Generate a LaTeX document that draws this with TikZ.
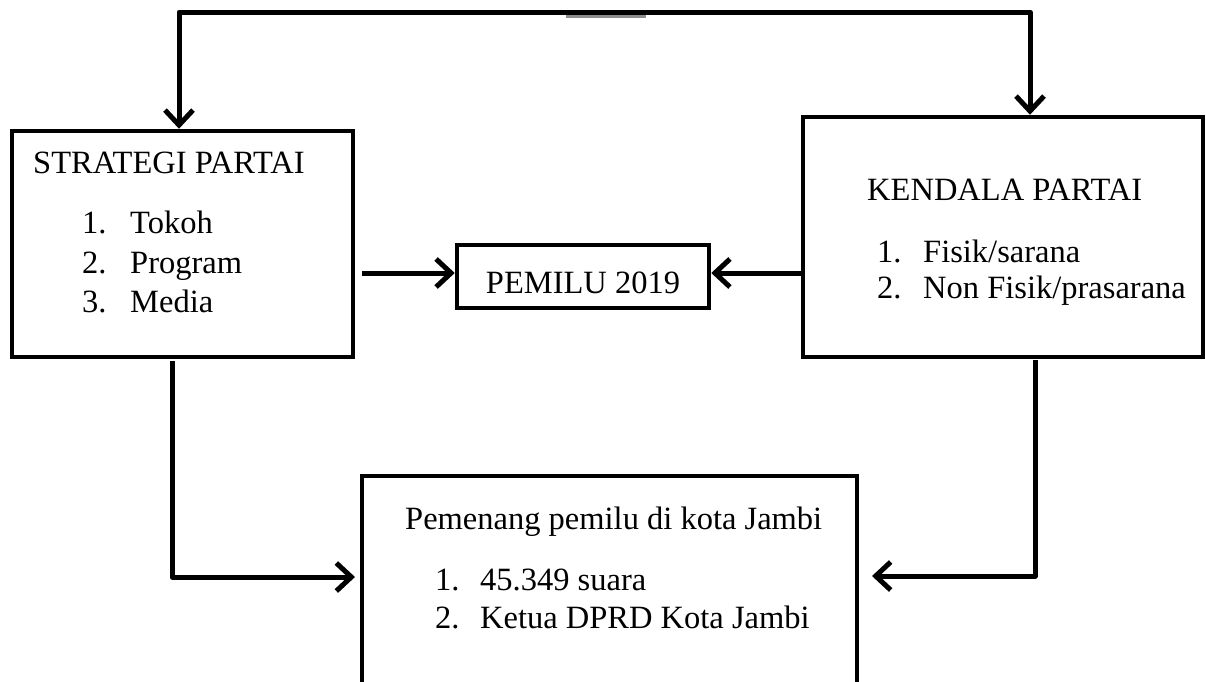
\documentclass[tikz,border=0pt]{standalone}
\usepackage{fontspec}
\setmainfont{Liberation Serif}
\usetikzlibrary{arrows.meta}
\tikzset{
  box/.style={draw=black, line width=4.5pt, rectangle, inner sep=0pt},
  conn/.style={draw=black, line width=5pt, line join=round},
  tip/.tip={Straight Barb[length=15pt,width=28pt,line width=5pt]},
  arr/.style={conn, -tip},
  biarr/.style={conn, tip-tip},
  txt/.style={anchor=base west, inner sep=0pt, font=\fontsize{32.5}{38}\selectfont},
}
\begin{document}
\begin{tikzpicture}[x=1pt,y=-1pt]
\useasboundingbox (0,0) rectangle (1206,681);
\clip (0,0) rectangle (1206,681);
% boxes
\node[box, minimum width=341pt, minimum height=226pt] (sp) at (182.5,244) {};
\node[box, minimum width=400pt, minimum height=240pt] (kp) at (1003,237) {};
\node[box, minimum width=252pt, minimum height=63pt] (pm) at (583,276.5) {};
\node[box, minimum width=495pt, minimum height=240pt] (pb) at (609.5,596) {};
% texts
\node[txt] (spt) at (33,173) {STRATEGI PARTAI};
\node[txt] (sp1n) at (82,233) {1.};
\node[txt] (sp1) at (130,233) {Tokoh};
\node[txt] (sp2n) at (82,273) {2.};
\node[txt] (sp2) at (130,273) {Program};
\node[txt] (sp3n) at (82,312) {3.};
\node[txt] (sp3) at (130,312) {Media};
\node[txt] (kpt) at (867,200) {KENDALA PARTAI};
\node[txt] (kp1n) at (877,262) {1.};
\node[txt] (kp1) at (923,262) {Fisik/sarana};
\node[txt] (kp2n) at (877,298) {2.};
\node[txt] (kp2) at (923,298) {Non Fisik/prasarana};
\node[anchor=base, inner sep=0pt, font=\fontsize{32.5}{38}\selectfont] (pmt) at (583,293) {PEMILU 2019};
\node[txt] (pbt) at (405,529) {Pemenang pemilu di kota Jambi};
\node[txt] (pb1n) at (435,590) {1.};
\node[txt] (pb1) at (480,590) {45.349 suara};
\node[txt] (pb2n) at (435,628) {2.};
\node[txt] (pb2) at (480,628) {Ketua DPRD Kota Jambi};
% coordinates
\coordinate (tl) at (179,12);
\coordinate (tr) at (1030,12);
\coordinate (a1) at (362,273);
\coordinate (b1) at (172,361);
\coordinate (b2) at (172,577);
\coordinate (b3) at (355,577);
\coordinate (c1) at (1035,360);
\coordinate (c2) at (1035,576);
\coordinate (c3) at (872,576);
% gray mark at the top line
\draw[black!45, line width=5pt] (566,15) -- (646,15);
% connectors
\draw[biarr] (sp.north -| tl) -- (tl) -- (tr) -- (kp.north -| tr);
\draw[arr] (a1) -- (pm.west |- a1);
\draw[arr] (kp.west |- a1) -- (pm.east |- a1);
\draw[arr] (b1) -- (b2) -- (b3);
\draw[arr] (c1) -- (c2) -- (c3);
\end{tikzpicture}
\end{document}
